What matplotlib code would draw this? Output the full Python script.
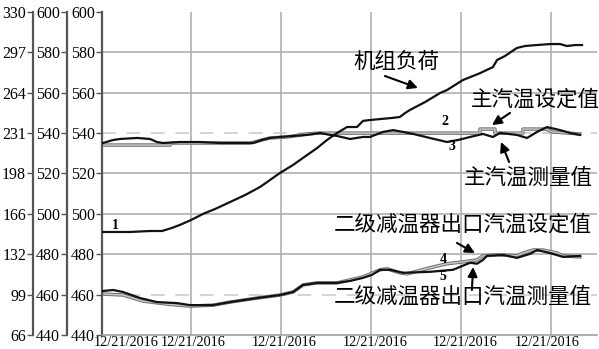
import matplotlib
matplotlib.use("Agg")
import matplotlib.pyplot as plt
import matplotlib.patheffects as pe

plt.rcParams['font.family'] = ['Liberation Serif', 'DejaVu Serif']
cjk = ['Noto Sans CJK SC', 'DejaVu Sans']

# time axis in minutes from the start of the record
load_t = [0, 9.3, 16, 20, 23.3, 26, 29.7, 33.7, 37.7, 42.7, 47.7, 52.7, 56, 59.3,
          63.7, 68.3, 71.7, 75, 78.3, 81.7, 85, 87, 89.3, 92.7, 96.7, 99.3, 101,
          102.7, 107.7, 112.7, 115, 120.3, 126, 130.3, 131.7, 134.3, 138.3, 141,
          145, 149.3, 152.7, 155, 157.7, 160]
load_mw = [150.2, 150.2, 151, 151, 153.5, 156, 160, 165, 169, 174.7, 180.4, 187,
           192.7, 198.4, 205, 213, 218.8, 225.4, 231, 236, 236, 241, 241.7, 242.5,
           243.4, 244.2, 247.4, 250, 256.4, 263.8, 266.2, 274.4, 280, 285, 290.8,
           294, 300.6, 302.2, 303, 303.8, 303.8, 302.2, 303, 303]

ms_set_t = [0.3, 22.7, 23.3, 49.3, 51, 53.3, 56, 61.7, 66, 68.3, 72, 126, 126,
            131, 131, 140.3, 140.3, 148, 150, 159.3]
ms_set = [534.1, 534.1, 535.1, 535.1, 535.6, 536.6, 537.6, 538.1, 539, 539.6,
          540, 540, 542, 542, 540, 540, 542, 542, 540.6, 539.6]

ms_meas_t = [0.3, 3.7, 6, 11.7, 16, 18.3, 20.3, 26, 32.7, 39.3, 46, 50.3, 53.3,
             56, 59.3, 63.7, 68.3, 72.7, 76, 78.3, 82.7, 87, 89.3, 93.7, 97,
             100.3, 103.7, 109.3, 115, 118.7, 122.7, 127, 130.3, 132.7, 138.3,
             141.7, 145, 148.3, 152.7, 156, 159.3]
ms_meas = [535.1, 536.6, 537.1, 537.6, 537.1, 535.6, 535.1, 535.6, 535.6, 535.1,
           535.1, 535.1, 536.6, 537.6, 538.1, 538.6, 539.1, 540.1, 539.1, 538.6,
           537.1, 538.1, 538.1, 540.6, 541.5, 540.6, 539.6, 537.6, 535.6, 536.6,
           538.1, 539.6, 538.1, 540.1, 539.1, 537.6, 540.6, 543, 541.5, 540.1, 539.1]

ds_set_t = [0.3, 7, 13.7, 21.7, 29.3, 37, 42.7, 51.7, 59.3, 63.7, 67, 71.7, 78.3,
            87, 92.7, 95, 99.3, 101.7, 109.3, 115, 120.3, 125, 127, 131.7, 138.3,
            140.3, 143.7, 147, 151.7, 153.7, 159.3]
ds_set = [460.3, 459.8, 456.8, 455.3, 454.3, 454.8, 456.3, 458.3, 459.8, 461.3,
          464.8, 465.8, 465.8, 468.8, 472.3, 472.8, 470.8, 470.3, 473.3, 475.3,
          476.2, 477.2, 479.2, 479.7, 479.2, 480.6, 482.1, 482.1, 480.6, 479.2,
          478.7]

ds_meas_t = [0.3, 3.7, 7, 12.7, 18.3, 25, 29.3, 37, 42.7, 51.7, 59.3, 63.7, 67,
             71.7, 78.3, 82.7, 87, 90, 92.7, 96, 100.3, 109.3, 117, 122.7, 125,
             127, 128.3, 133.7, 138.3, 142.7, 145, 149.3, 153.7, 159.3]
ds_meas = [461.8, 462.3, 461.3, 458.3, 456.3, 455.8, 454.8, 454.8, 456.3, 458.3,
           459.8, 461.3, 464.8, 465.8, 465.8, 466.8, 468.3, 469.8, 472.3, 472.3,
           470.8, 471.3, 472.3, 475.8, 475.3, 477.2, 479.2, 479.7, 478.2, 480.2,
           482.1, 480.6, 478.7, 479.2]

temp_ticks = [440, 460, 480, 500, 520, 540, 560, 580, 600]
load_ticks = [66, 99, 132, 165, 198, 231, 264, 297, 330]
load_labels = ['66', '99', '132', '166', '198', '231', '264', '297', '330']
x_ticks = [8, 30.3, 60.7, 91, 121, 148.3]
x_labels = ['12/21/2016'] * 6
x_grid = [29.7, 59.7, 89.7, 119.7, 149.7]

fig = plt.figure(figsize=(5.99, 3.49), dpi=100)
ax = fig.add_axes([102 / 599, 14 / 349, 495 / 599, 323 / 349])
ax.set_xlim(0, 165)
ax.set_ylim(440, 600)

# grid
for g in x_grid:
    ax.axvline(g, color='#a8a8a8', lw=1.1, zorder=0)
for v in temp_ticks[1:-1]:
    if v in (460, 540):
        ax.axhline(v, color='#c8c8c8', lw=1.1, dashes=(9, 7), zorder=0)
    else:
        ax.axhline(v, color='#a8a8a8', lw=1.1, zorder=0)

hollow = [pe.Stroke(linewidth=2.5, foreground='#707070'), pe.Normal()]
ax.plot(ms_set_t, ms_set, color='#c4c4c4', lw=1.1, path_effects=hollow, zorder=2)
ax.plot(ms_meas_t, ms_meas, color='#111111', lw=1.6, zorder=3)
ax.plot(ds_set_t, ds_set, color='#c4c4c4', lw=1.1, path_effects=hollow, zorder=2)
ax.plot(ds_meas_t, ds_meas, color='#111111', lw=1.6, zorder=3)

ax.set_xticks(x_ticks)
ax.set_xticklabels(x_labels, fontsize=10.3)
ax.tick_params(axis='x', length=0, pad=1)
ax.set_yticks(temp_ticks)
ax.tick_params(axis='y', labelsize=11.5, length=4, width=1, color='#555555', pad=1)

for s in ('top', 'right'):
    ax.spines[s].set_visible(False)
ax.spines['left'].set_color('#555555')
ax.spines['left'].set_linewidth(1.6)
ax.spines['bottom'].set_color('#999999')
ax.spines['bottom'].set_linewidth(1.1)

# second temperature scale
ax2 = ax.twinx()
ax2.set_ylim(440, 600)
ax2.set_yticks(temp_ticks)
ax2.spines['left'].set_position(('outward', 25.2))
ax2.yaxis.set_ticks_position('left')
ax2.tick_params(axis='y', labelsize=11.5, length=4, width=1, color='#555555', pad=1)

# unit load scale
ax3 = ax.twinx()
ax3.set_ylim(66, 330)
ax3.set_yticks(load_ticks)
ax3.set_yticklabels(load_labels)
ax3.spines['left'].set_position(('outward', 49.7))
ax3.yaxis.set_ticks_position('left')
ax3.tick_params(axis='y', labelsize=11.5, length=4, width=1, color='#555555', pad=1)
ax3.plot(load_t, load_mw, color='#111111', lw=1.6, zorder=3)

for a in (ax2, ax3):
    for s in ('top', 'right', 'bottom'):
        a.spines[s].set_visible(False)
    a.spines['left'].set_color('#555555')
    a.spines['left'].set_linewidth(1.6)
    a.patch.set_visible(False)

# curve numbers
for txt, x, y in [('1', 4.3, 494.0), ('2', 114.3, 546.0), ('3', 116.7, 533.6),
                  ('4', 113.7, 477.2), ('5', 113.7, 468.8)]:
    ax.text(x, y, txt, fontsize=10, fontweight='bold', ha='center', va='center')

arrow = dict(arrowstyle='-|>', color='k', lw=1.5, mutation_scale=14,
             shrinkA=0, shrinkB=0)
notes = [
    ('机组负荷', (98, 575.2), (105.3, 562.4), (94.3, 568.3)),
    ('主汽温设定值', (144.3, 556.4), (130, 544), (136, 550)),
    ('主汽温测量值', (142, 517.8), (133, 535.6), (135.7, 525.7)),
    ('二级减温器出口汽温设定值', (120.3, 494.5), (124.3, 480.6), (118.3, 485.6)),
    ('二级减温器出口汽温测量值', (120.3, 458.8), (123.7, 473.7), (123.3, 462.3)),
]
for txt, pos, head, tail in notes:
    ax.text(pos[0], pos[1], txt, family=cjk, fontsize=15.5, ha='center',
            va='center', clip_on=False, zorder=5)
    ax.annotate('', xy=head, xytext=tail, arrowprops=arrow, zorder=5)

fig.savefig('out.png', dpi=100)
